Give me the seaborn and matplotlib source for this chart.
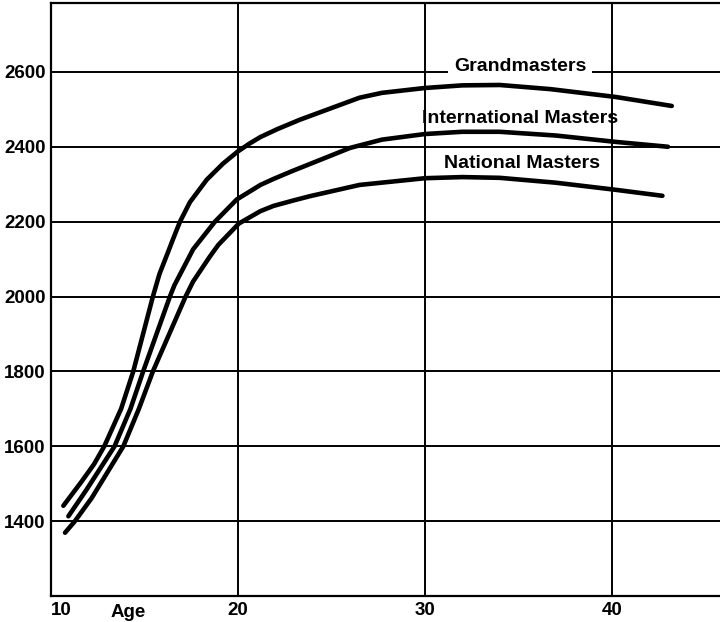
import matplotlib
matplotlib.use("Agg")
import matplotlib.pyplot as plt
import pandas as pd
import seaborn as sns

# ratings (age, Elo)
gm_age = [10.66, 11.64, 12.3, 12.85, 13.75, 14.4, 15.45, 15.8, 16.27, 16.54, 16.9, 17.43,
          18.33, 19.2, 19.98, 20.6, 21.2, 22.1, 23.3, 26.5, 27.7, 30.0, 32.0, 34.0,
          36.7, 40.2, 43.2]
gm_rating = [1441, 1506, 1552, 1600, 1700, 1800, 2000, 2060, 2120, 2155, 2200, 2252,
             2312, 2355, 2387, 2408, 2426, 2447, 2472, 2531, 2544, 2557, 2564, 2565,
             2554, 2533, 2509]

im_age = [10.93, 11.9, 13.4, 14.25, 14.93, 16.36, 16.6, 17.6, 18.77, 19.93, 21.2, 21.9,
          22.8, 23.3, 26.0, 27.7, 30.0, 32.0, 34.0, 37.0, 40.2, 43.0]
im_rating = [1413, 1484, 1600, 1700, 1800, 2000, 2030, 2126, 2200, 2259, 2298, 2314,
             2333, 2343, 2397, 2419, 2434, 2440, 2440, 2430, 2413, 2400]

nm_age = [10.75, 11.28, 12.18, 13.87, 14.7, 15.45, 17.2, 17.6, 18.5, 18.95, 20.05,
          21.2, 21.9, 23.0, 23.85, 26.5, 30.0, 32.0, 34.0, 37.0, 40.2, 42.7]
nm_rating = [1369, 1400, 1462, 1600, 1700, 1800, 2000, 2040, 2107, 2138, 2195,
             2228, 2242, 2257, 2268, 2298, 2316, 2319, 2317, 2304, 2285, 2269]

groups = ["Grandmasters", "International Masters", "National Masters"]
label_pos = [(35.1, 2614), (35.1, 2476), (35.2, 2355)]

x_ticks = [10, 20, 30, 40]
y_ticks = [1400, 1600, 1800, 2000, 2200, 2400, 2600]

df = pd.concat([
    pd.DataFrame({"age": gm_age, "rating": gm_rating, "group": groups[0]}),
    pd.DataFrame({"age": im_age, "rating": im_rating, "group": groups[1]}),
    pd.DataFrame({"age": nm_age, "rating": nm_rating, "group": groups[2]}),
])

sns.set_style("white")
plt.rcParams["font.family"] = ["Liberation Sans", "DejaVu Sans"]
plt.rcParams["text.color"] = "black"

fig = plt.figure(figsize=(7.2, 6.22), dpi=100)
ax = fig.add_axes([51 / 720, 26 / 622, 669 / 720, 593 / 622])

sns.lineplot(data=df, x="age", y="rating", hue="group",
             palette={g: "black" for g in groups}, estimator=None, sort=False,
             linewidth=3.3, legend=False, ax=ax, solid_capstyle="round",
             solid_joinstyle="round", zorder=3)

ax.set_xlim(10, 45.78)
ax.set_ylim(1200, 2784)
ax.set_xticks(x_ticks)
ax.set_yticks(y_ticks)
ax.set_xticklabels([str(t) for t in x_ticks], fontsize=13.5, fontweight="bold")
ax.set_yticklabels([str(t) for t in y_ticks], fontsize=13.5, fontweight="bold")
ax.get_xticklabels()[0].set_ha("left")
ax.tick_params(length=0, pad=4, labelcolor="black")
ax.grid(True, color="black", linewidth=1.4)
ax.set_axisbelow(True)
ax.set_xlabel("")
ax.set_ylabel("")

for side in ["left", "bottom", "top"]:
    ax.spines[side].set_color("black")
    ax.spines[side].set_linewidth(1.6)
ax.spines["right"].set_visible(False)

ax.annotate("Age", xy=(14.1, 0), xycoords=("data", "axes fraction"),
            xytext=(0, -12), textcoords="offset points", ha="center", va="center",
            fontsize=13.5, fontweight="bold", color="black")

for i, (g, (x, y)) in enumerate(zip(groups, label_pos)):
    box = dict(boxstyle="square,pad=0.3", fc="white", ec="none") if i == 0 else None
    ax.text(x, y, g, ha="center", va="center", fontsize=14, fontweight="bold",
            color="black", bbox=box, zorder=4)

fig.savefig("out.png", dpi=100)
